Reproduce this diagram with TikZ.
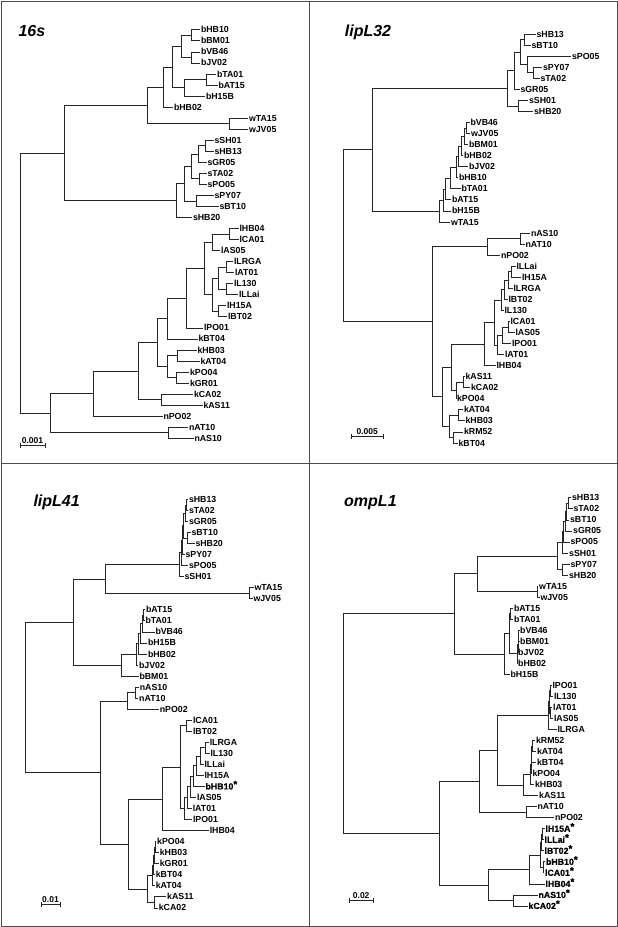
\documentclass[tikz,border=0pt]{standalone}
\usepackage{fontspec}
\setmainfont{Liberation Sans}
\newfontface\heavyfont{Liberation Sans Bold}[FakeBold=0.6]
\newcommand\lblfont{\fontsize{8.8}{8.8}\selectfont\bfseries}
\newcommand\ttlfont{\fontsize{16}{16}\selectfont\bfseries\itshape}
\newcommand\myleaf[4]{\node[leaf] (#1) at (#2,#3) {#4};}
\newcommand\mynd[3]{\coordinate (#1) at (#2,#3);}
\newcommand\mybr[3]{\draw[branch] (#1) |- (#2) (#1) |- (#3);}
\newcommand\hv[1]{{\heavyfont #1\raisebox{1.8pt}{\fontsize{10}{10}\selectfont *}}}
\newcommand\myscale[6]{% prefix, x1, x2, y, text, textx
  \coordinate (#1a) at (#2,#4); \coordinate (#1b) at (#3,#4);
  \draw[sbar] (#1a) -- (#1b);
  \draw[sbar] ([yshift=2.5pt]#1a) -- ([yshift=-2.5pt]#1a);
  \draw[sbar] ([yshift=2.5pt]#1b) -- ([yshift=-2.5pt]#1b);
  \node[sbtext] (#1t) at (#6,#4-2) {#5};}
\tikzset{
  leaf/.style={anchor=west, inner xsep=0.8pt, inner ysep=0pt, text height=6.3pt, text depth=0pt, font=\lblfont},
  branch/.style={line width=0.6pt, black!85},
  sbar/.style={line width=0.6pt, black!85},
  sbtext/.style={anchor=base, inner sep=0pt, font=\fontsize{8.5}{8.5}\selectfont\bfseries},
  ttl/.style={anchor=base west, inner sep=0pt, font=\ttlfont},
  frame/.style={line width=0.9pt, black!70}
}
\begin{document}
\begin{tikzpicture}[x=1pt,y=-1pt]
\fill[white] (0,0) rectangle (618,927);
\useasboundingbox (0,0) rectangle (618,927);
\draw[frame] (1,1) rectangle (617,926);
\draw[frame] (309,1) -- (309,926);
\draw[frame] (1,463) -- (617,463);

% ================= Panel A: 16s =================
\node[ttl] (Attl) at (18.3,36.5) {16s};
\myleaf{AbHB10}{200}{29.7}{bHB10}
\myleaf{AbBM01}{200}{40.7}{bBM01}
\myleaf{AbVB46}{200}{51.8}{bVB46}
\myleaf{AbJV02}{200}{62.8}{bJV02}
\myleaf{AbTA01}{216}{73.9}{bTA01}
\myleaf{AbAT15}{217.5}{84.9}{bAT15}
\myleaf{AbH15B}{205}{95.9}{bH15B}
\myleaf{AbHB02}{173}{107.0}{bHB02}
\myleaf{AwTA15}{248}{118.0}{wTA15}
\myleaf{AwJV05}{248}{129.1}{wJV05}
\myleaf{AsSH01}{213.5}{140.1}{sSH01}
\myleaf{AsHB13}{213.5}{151.1}{sHB13}
\myleaf{AsGR05}{206.5}{162.2}{sGR05}
\myleaf{AsTA02}{206.5}{173.2}{sTA02}
\myleaf{AsPO05}{206.5}{184.3}{sPO05}
\myleaf{AsPY07}{213.5}{195.3}{sPY07}
\myleaf{AsBT10}{218.5}{206.3}{sBT10}
\myleaf{AsHB20}{192}{217.4}{sHB20}
\myleaf{AlHB04}{238.5}{228.4}{lHB04}
\myleaf{AlCA01}{238.5}{239.5}{lCA01}
\myleaf{AlAS05}{220}{250.5}{lAS05}
\myleaf{AlLRGA}{233}{261.5}{lLRGA}
\myleaf{AlAT01}{234}{272.6}{lAT01}
\myleaf{AlL130}{233}{283.6}{lL130}
\myleaf{AlLLai}{238}{294.7}{lLLai}
\myleaf{AlH15A}{226}{305.7}{lH15A}
\myleaf{AlBT02}{227}{316.7}{lBT02}
\myleaf{AlPO01}{203}{327.8}{lPO01}
\myleaf{AkBT04}{197.5}{338.8}{kBT04}
\myleaf{AkHB03}{196.5}{349.9}{kHB03}
\myleaf{AkAT04}{199.5}{360.9}{kAT04}
\myleaf{AkPO04}{189}{371.9}{kPO04}
\myleaf{AkGR01}{189}{383.0}{kGR01}
\myleaf{AkCA02}{193}{394.0}{kCA02}
\myleaf{AkAS11}{202.5}{405.1}{kAS11}
\myleaf{AnPO02}{162.5}{416.1}{nPO02}
\myleaf{AnAT10}{188}{427.1}{nAT10}
\myleaf{AnAS10}{193.5}{438.2}{nAS10}
\mynd{Ab1}{191.7}{35.2}
\mynd{Ab2}{191.7}{57.3}
\mynd{Ab3}{181.7}{46.25}
\mynd{Ab4}{206}{79.4}
\mynd{Ab5}{184}{87.65}
\mynd{Ab6}{172.7}{66.95}
\mynd{Ab7}{163.3}{86.98}
\mynd{Aw1}{229.3}{123.55}
\mynd{Abw}{147.7}{105.27}
\mynd{AsA}{205.5}{145.6}
\mynd{AsB}{198.3}{153.9}
\mynd{AsC}{199.3}{178.75}
\mynd{AsD}{191.7}{166.3}
\mynd{AsE}{196.7}{200.8}
\mynd{AsF}{184.3}{183.55}
\mynd{AsG}{176}{200.5}
\mynd{Atop}{64.3}{152.9}
\mynd{Al1}{229.3}{233.95}
\mynd{Al2}{212.3}{242.2}
\mynd{Al3}{226.7}{267.05}
\mynd{Al4}{226.7}{289.15}
\mynd{Al5}{218.3}{278.1}
\mynd{Al6}{218.3}{311.2}
\mynd{Al7}{212.3}{294.65}
\mynd{Al8}{204.3}{268.4}
\mynd{Al9}{186.7}{298.1}
\mynd{Ak1}{167.3}{318.45}
\mynd{Ak2}{177.3}{355.4}
\mynd{Ak3}{176.7}{377.45}
\mynd{Ak4}{167.3}{366.4}
\mynd{Ak5}{157.7}{342.4}
\mynd{Ak6}{161.7}{399.55}
\mynd{Ak7}{138.3}{370.98}
\mynd{Ak8}{93.3}{393.5}
\mynd{An1}{168.3}{432.65}
\mynd{Abot}{50}{413.1}
\mynd{Aroot}{20}{283}
\mybr{Ab1}{AbHB10}{AbBM01}
\mybr{Ab2}{AbVB46}{AbJV02}
\mybr{Ab3}{Ab1}{Ab2}
\mybr{Ab4}{AbTA01}{AbAT15}
\mybr{Ab5}{Ab4}{AbH15B}
\mybr{Ab6}{Ab3}{Ab5}
\mybr{Ab7}{Ab6}{AbHB02}
\mybr{Aw1}{AwTA15}{AwJV05}
\mybr{Abw}{Ab7}{Aw1}
\mybr{AsA}{AsSH01}{AsHB13}
\mybr{AsB}{AsA}{AsGR05}
\mybr{AsC}{AsTA02}{AsPO05}
\mybr{AsD}{AsB}{AsC}
\mybr{AsE}{AsPY07}{AsBT10}
\mybr{AsF}{AsD}{AsE}
\mybr{AsG}{AsF}{AsHB20}
\mybr{Atop}{Abw}{AsG}
\mybr{Al1}{AlHB04}{AlCA01}
\mybr{Al2}{Al1}{AlAS05}
\mybr{Al3}{AlLRGA}{AlAT01}
\mybr{Al4}{AlL130}{AlLLai}
\mybr{Al5}{Al3}{Al4}
\mybr{Al6}{AlH15A}{AlBT02}
\mybr{Al7}{Al5}{Al6}
\mybr{Al8}{Al2}{Al7}
\mybr{Al9}{Al8}{AlPO01}
\mybr{Ak1}{Al9}{AkBT04}
\mybr{Ak2}{AkHB03}{AkAT04}
\mybr{Ak3}{AkPO04}{AkGR01}
\mybr{Ak4}{Ak2}{Ak3}
\mybr{Ak5}{Ak1}{Ak4}
\mybr{Ak6}{AkCA02}{AkAS11}
\mybr{Ak7}{Ak5}{Ak6}
\mybr{Ak8}{Ak7}{AnPO02}
\mybr{An1}{AnAT10}{AnAS10}
\mybr{Abot}{Ak8}{An1}
\mybr{Aroot}{Atop}{Abot}
\myscale{Asb}{20.7}{45}{445}{0.001}{32.5}

% ================= Panel B: lipL32 =================
\node[ttl] (Bttl) at (344.7,36.7) {lipL32};
\myleaf{BsHB13}{535.5}{34.0}{sHB13}
\myleaf{BsBT10}{530.5}{45.05}{sBT10}
\myleaf{BsPO05}{571}{56.1}{sPO05}
\myleaf{BsPY07}{542}{67.15}{sPY07}
\myleaf{BsTA02}{539.5}{78.2}{sTA02}
\myleaf{BsGR05}{519.5}{89.25}{sGR05}
\myleaf{BsSH01}{528}{100.3}{sSH01}
\myleaf{BsHB20}{533}{111.35}{sHB20}
\myleaf{BbVB46}{469.5}{122.4}{bVB46}
\myleaf{BwJV05}{470}{133.45}{wJV05}
\myleaf{BbBM01}{468}{144.5}{bBM01}
\myleaf{BbHB02}{463}{155.55}{bHB02}
\myleaf{BbJV02}{468}{166.6}{bJV02}
\myleaf{BbHB10}{458}{177.65}{bHB10}
\myleaf{BbTA01}{460.5}{188.7}{bTA01}
\myleaf{BbAT15}{451}{199.75}{bAT15}
\myleaf{BbH15B}{451}{210.8}{bH15B}
\myleaf{BwTA15}{450}{221.85}{wTA15}
\myleaf{BnAS10}{530}{232.9}{nAS10}
\myleaf{BnAT10}{524.5}{243.95}{nAT10}
\myleaf{BnPO02}{500}{255.0}{nPO02}
\myleaf{BlLLai}{515.5}{266.05}{lLLai}
\myleaf{BlH15A}{521}{277.1}{lH15A}
\myleaf{BlLRGA}{512.5}{288.15}{lLRGA}
\myleaf{BlBT02}{507.5}{299.2}{lBT02}
\myleaf{BlL130}{503.5}{310.25}{lL130}
\myleaf{BlCA01}{509.5}{321.3}{lCA01}
\myleaf{BlAS05}{514.5}{332.35}{lAS05}
\myleaf{BlPO01}{511}{343.4}{lPO01}
\myleaf{BlAT01}{504}{354.45}{lAT01}
\myleaf{BlHB04}{495.5}{365.5}{lHB04}
\myleaf{BkAS11}{464.5}{376.55}{kAS11}
\myleaf{BkCA02}{470}{387.6}{kCA02}
\myleaf{BkPO04}{456}{398.65}{kPO04}
\myleaf{BkAT04}{463}{409.7}{kAT04}
\myleaf{BkHB03}{464.5}{420.75}{kHB03}
\myleaf{BkRM52}{463}{431.8}{kRM52}
\myleaf{BkBT04}{457.5}{442.85}{kBT04}
\mynd{Bs1}{524.7}{39.5}
\mynd{Bs2}{533.7}{72.7}
\mynd{Bs3}{527.3}{64.4}
\mynd{Bs4}{520.3}{51.95}
\mynd{Bs5}{514}{70.6}
\mynd{Bs6}{518.7}{105.8}
\mynd{Bs7}{507.3}{88.2}
\mynd{Bb1}{466.3}{127.9}
\mynd{Bb2}{464.7}{136.2}
\mynd{Bb3}{461.3}{145.9}
\mynd{Bb4}{458}{156.25}
\mynd{Bb5}{456.3}{166.95}
\mynd{Bb6}{450.7}{177.8}
\mynd{Bb7}{445.3}{188.8}
\mynd{Bb8}{443}{199.8}
\mynd{Bb9}{439.7}{210.8}
\mynd{Btop}{372.3}{149.5}
\mynd{Bn1}{520.3}{238.4}
\mynd{Bn2}{487.3}{246.7}
\mynd{Bl1}{511}{271.6}
\mynd{Bl2}{508.3}{279.9}
\mynd{Bl3}{504.3}{289.55}
\mynd{Bl4}{501.3}{299.9}
\mynd{Bl5}{508.5}{326.8}
\mynd{Bl6}{502.5}{335.1}
\mynd{Bl7}{497}{344.8}
\mynd{Bl8}{494.3}{322.35}
\mynd{Bl9}{484.3}{343.9}
\mynd{Bk1}{463}{382.1}
\mynd{Bk2}{456}{390.4}
\mynd{Bk3}{451.7}{367.15}
\mynd{Bk4}{458.3}{415.2}
\mynd{Bk5}{453.3}{437.3}
\mynd{Bk6}{449.3}{426.3}
\mynd{Bk7}{442.7}{396.7}
\mynd{Bbot}{432.5}{321.7}
\mynd{Broot}{343}{235.6}
\mybr{Bs1}{BsHB13}{BsBT10}
\mybr{Bs2}{BsPY07}{BsTA02}
\mybr{Bs3}{BsPO05}{Bs2}
\mybr{Bs4}{Bs1}{Bs3}
\mybr{Bs5}{Bs4}{BsGR05}
\mybr{Bs6}{BsSH01}{BsHB20}
\mybr{Bs7}{Bs5}{Bs6}
\mybr{Bb1}{BbVB46}{BwJV05}
\mybr{Bb2}{Bb1}{BbBM01}
\mybr{Bb3}{Bb2}{BbHB02}
\mybr{Bb4}{Bb3}{BbJV02}
\mybr{Bb5}{Bb4}{BbHB10}
\mybr{Bb6}{Bb5}{BbTA01}
\mybr{Bb7}{Bb6}{BbAT15}
\mybr{Bb8}{Bb7}{BbH15B}
\mybr{Bb9}{Bb8}{BwTA15}
\mybr{Btop}{Bs7}{Bb9}
\mybr{Bn1}{BnAS10}{BnAT10}
\mybr{Bn2}{Bn1}{BnPO02}
\mybr{Bl1}{BlLLai}{BlH15A}
\mybr{Bl2}{Bl1}{BlLRGA}
\mybr{Bl3}{Bl2}{BlBT02}
\mybr{Bl4}{Bl3}{BlL130}
\mybr{Bl5}{BlCA01}{BlAS05}
\mybr{Bl6}{Bl5}{BlPO01}
\mybr{Bl7}{Bl6}{BlAT01}
\mybr{Bl8}{Bl4}{Bl7}
\mybr{Bl9}{Bl8}{BlHB04}
\mybr{Bk1}{BkAS11}{BkCA02}
\mybr{Bk2}{Bk1}{BkPO04}
\mybr{Bk3}{Bl9}{Bk2}
\mybr{Bk4}{BkAT04}{BkHB03}
\mybr{Bk5}{BkRM52}{BkBT04}
\mybr{Bk6}{Bk4}{Bk5}
\mybr{Bk7}{Bk3}{Bk6}
\mybr{Bbot}{Bn2}{Bk7}
\mybr{Broot}{Btop}{Bbot}
\myscale{Bsb}{351.3}{383}{436.7}{0.005}{367.2}

% ================= Panel C: lipL41 =================
\node[ttl] (Cttl) at (33.3,506.5) {lipL41};
\myleaf{CsHB13}{188}{499.3}{sHB13}
\myleaf{CsTA02}{188}{510.3}{sTA02}
\myleaf{CsGR05}{188}{521.4}{sGR05}
\myleaf{CsBT10}{190.5}{532.4}{sBT10}
\myleaf{CsHB20}{194.5}{543.5}{sHB20}
\myleaf{CsPY07}{184.5}{554.5}{sPY07}
\myleaf{CsPO05}{188}{565.5}{sPO05}
\myleaf{CsSH01}{183.5}{576.6}{sSH01}
\myleaf{CwTA15}{253.5}{587.6}{wTA15}
\myleaf{CwJV05}{252.5}{598.7}{wJV05}
\myleaf{CbAT15}{145}{609.7}{bAT15}
\myleaf{CbTA01}{144.5}{620.7}{bTA01}
\myleaf{CbVB46}{154.5}{631.8}{bVB46}
\myleaf{CbH15B}{147}{642.8}{bH15B}
\myleaf{CbHB02}{147}{653.9}{bHB02}
\myleaf{CbJV02}{138}{664.9}{bJV02}
\myleaf{CbBM01}{138.5}{675.9}{bBM01}
\myleaf{CnAS10}{138.8}{687.0}{nAS10}
\myleaf{CnAT10}{138.2}{698.0}{nAT10}
\myleaf{CnPO02}{158.8}{709.1}{nPO02}
\myleaf{ClCA01}{192}{720.1}{lCA01}
\myleaf{ClBT02}{192}{731.1}{lBT02}
\myleaf{ClLRGA}{208.8}{742.2}{lLRGA}
\myleaf{ClL130}{209.5}{753.2}{lL130}
\myleaf{ClLLai}{203.5}{764.3}{lLLai}
\myleaf{ClH15A}{203.5}{775.3}{lH15A}
\myleaf{CbHB10}{204.5}{786.3}{\hv{bHB10}}
\myleaf{ClAS05}{196}{797.4}{lAS05}
\myleaf{ClAT01}{191.8}{808.4}{lAT01}
\myleaf{ClPO01}{192}{819.5}{lPO01}
\myleaf{ClHB04}{208.8}{830.5}{lHB04}
\myleaf{CkPO04}{156.2}{841.5}{kPO04}
\myleaf{CkHB03}{158.8}{852.6}{kHB03}
\myleaf{CkGR01}{158.8}{863.6}{kGR01}
\myleaf{CkBT04}{154.8}{874.7}{kBT04}
\myleaf{CkAT04}{154.8}{885.7}{kAT04}
\myleaf{CkAS11}{166.2}{896.7}{kAS11}
\myleaf{CkCA02}{157.8}{907.8}{kCA02}
\mynd{Cs1}{186.3}{504.8}
\mynd{Cs2}{185.3}{513.1}
\mynd{Cs3}{187.7}{537.95}
\mynd{Cs4}{183.7}{525.5}
\mynd{Cs5}{182.3}{540}
\mynd{Cs6}{181}{552.75}
\mynd{Cs7}{179.3}{564.7}
\mynd{Cw1}{249.3}{593.15}
\mynd{Csw}{105.3}{578.9}
\mynd{Cb1}{143.3}{615.2}
\mynd{Cb2}{142.3}{623.5}
\mynd{Cb3}{140.3}{633.15}
\mynd{Cb4}{138.7}{643.5}
\mynd{Cb5}{136.7}{654.2}
\mynd{Cb6}{121.7}{665.05}
\mynd{Ctop}{73.3}{622}
\mynd{Cn1}{135}{692.5}
\mynd{Cn2}{127.7}{700.8}
\mynd{Cl1}{186.7}{725.6}
\mynd{Cl2}{205.7}{747.7}
\mynd{Cl3}{200.3}{756}
\mynd{Cl4}{196.7}{765.65}
\mynd{Cl5}{193.3}{775.97}
\mynd{Cl6}{190.7}{786.7}
\mynd{Cl7}{187.7}{797.55}
\mynd{Cl8}{184.3}{808.5}
\mynd{Cl9}{180.3}{767.05}
\mynd{Cl10}{162.3}{798.8}
\mynd{Ck1}{155.3}{847.05}
\mynd{Ck2}{154.3}{855.3}
\mynd{Ck3}{153.3}{865}
\mynd{Ck4}{152.3}{875.35}
\mynd{Ck5}{154.3}{902.25}
\mynd{Ck6}{147.7}{888.8}
\mynd{Clk}{128.3}{843.8}
\mynd{Cbot}{100}{772.3}
\mynd{Croot}{25}{697}
\mybr{Cs1}{CsHB13}{CsTA02}
\mybr{Cs2}{Cs1}{CsGR05}
\mybr{Cs3}{CsBT10}{CsHB20}
\mybr{Cs4}{Cs2}{Cs3}
\mybr{Cs5}{Cs4}{CsPY07}
\mybr{Cs6}{Cs5}{CsPO05}
\mybr{Cs7}{Cs6}{CsSH01}
\mybr{Cw1}{CwTA15}{CwJV05}
\mybr{Csw}{Cs7}{Cw1}
\mybr{Cb1}{CbAT15}{CbTA01}
\mybr{Cb2}{Cb1}{CbVB46}
\mybr{Cb3}{Cb2}{CbH15B}
\mybr{Cb4}{Cb3}{CbHB02}
\mybr{Cb5}{Cb4}{CbJV02}
\mybr{Cb6}{Cb5}{CbBM01}
\mybr{Ctop}{Csw}{Cb6}
\mybr{Cn1}{CnAS10}{CnAT10}
\mybr{Cn2}{Cn1}{CnPO02}
\mybr{Cl1}{ClCA01}{ClBT02}
\mybr{Cl2}{ClLRGA}{ClL130}
\mybr{Cl3}{Cl2}{ClLLai}
\mybr{Cl4}{Cl3}{ClH15A}
\mybr{Cl5}{Cl4}{CbHB10}
\mybr{Cl6}{Cl5}{ClAS05}
\mybr{Cl7}{Cl6}{ClAT01}
\mybr{Cl8}{Cl7}{ClPO01}
\mybr{Cl9}{Cl1}{Cl8}
\mybr{Cl10}{Cl9}{ClHB04}
\mybr{Ck1}{CkPO04}{CkHB03}
\mybr{Ck2}{Ck1}{CkGR01}
\mybr{Ck3}{Ck2}{CkBT04}
\mybr{Ck4}{Ck3}{CkAT04}
\mybr{Ck5}{CkAS11}{CkCA02}
\mybr{Ck6}{Ck4}{Ck5}
\mybr{Clk}{Cl10}{Ck6}
\mybr{Cbot}{Cn2}{Clk}
\mybr{Croot}{Ctop}{Cbot}
\myscale{Csb}{41.7}{60.7}{904.3}{0.01}{50.5}

% ================= Panel D: ompL1 =================
\node[ttl] (Dttl) at (344,506.5) {ompL1};
\myleaf{DsHB13}{571}{497.7}{sHB13}
\myleaf{DsTA02}{572.5}{508.7}{sTA02}
\myleaf{DsBT10}{569}{519.8}{sBT10}
\myleaf{DsGR05}{572.2}{530.8}{sGR05}
\myleaf{DsPO05}{569.5}{541.8}{sPO05}
\myleaf{DsSH01}{568.2}{552.9}{sSH01}
\myleaf{DsPY07}{569.5}{563.9}{sPY07}
\myleaf{DsHB20}{568}{574.9}{sHB20}
\myleaf{DwTA15}{538.2}{585.9}{wTA15}
\myleaf{DwJV05}{539.5}{597.0}{wJV05}
\myleaf{DbAT15}{513}{608.0}{bAT15}
\myleaf{DbTA01}{513.2}{619.0}{bTA01}
\myleaf{DbVB46}{519.2}{630.1}{bVB46}
\myleaf{DbBM01}{519.2}{641.1}{bBM01}
\myleaf{DbJV02}{517.2}{652.1}{bJV02}
\myleaf{DbHB02}{517.2}{663.2}{bHB02}
\myleaf{DbH15B}{509.5}{674.2}{bH15B}
\myleaf{DlPO01}{551.5}{685.2}{lPO01}
\myleaf{DlL130}{553}{696.2}{lL130}
\myleaf{DlAT01}{552.2}{707.3}{lAT01}
\myleaf{DlAS05}{553}{718.3}{lAS05}
\myleaf{DlLRGA}{556.5}{729.3}{lLRGA}
\myleaf{DkRM52}{535}{740.4}{kRM52}
\myleaf{DkAT04}{536}{751.4}{kAT04}
\myleaf{DkBT04}{536}{762.4}{kBT04}
\myleaf{DkPO04}{531.5}{773.5}{kPO04}
\myleaf{DkHB03}{534}{784.5}{kHB03}
\myleaf{DkAS11}{538.2}{795.5}{kAS11}
\myleaf{DnAT10}{536.5}{806.5}{nAT10}
\myleaf{DnPO02}{554}{817.6}{nPO02}
\myleaf{DlH15A}{544.5}{828.6}{\hv{lH15A}}
\myleaf{DlLLai}{543.5}{839.6}{\hv{lLLai}}
\myleaf{DlBT02}{543.5}{850.7}{\hv{lBT02}}
\myleaf{DbHB10}{545}{861.7}{\hv{bHB10}}
\myleaf{DlCA01}{544}{872.7}{\hv{lCA01}}
\myleaf{DlHB04}{544.5}{883.8}{\hv{lHB04}}
\myleaf{DnAS10}{537.5}{894.8}{\hv{nAS10}}
\myleaf{DkCA02}{527.5}{905.8}{\hv{kCA02}}
\mynd{Ds1}{568}{503.2}
\mynd{Ds2}{566.3}{511.5}
\mynd{Ds3}{565}{521.15}
\mynd{Ds4}{563.7}{531.5}
\mynd{Ds5}{562.3}{542.2}
\mynd{Ds6}{562}{569.4}
\mynd{Ds7}{557}{555.8}
\mynd{Dw1}{537}{591.45}
\mynd{Dsw}{477.3}{573.6}
\mynd{Db1}{510.7}{613.5}
\mynd{Db2}{518.7}{635.6}
\mynd{Db3}{518}{643.85}
\mynd{Db4}{517}{653.5}
\mynd{Db5}{509}{633.5}
\mynd{Db6}{504.7}{653.85}
\mynd{Dtop}{454.7}{613.7}
\mynd{Dl1}{550.5}{690.7}
\mynd{Dl2}{550}{712.8}
\mynd{Dl3}{549}{701.75}
\mynd{Dl4}{548}{715.5}
\mynd{Dk1}{532.3}{745.9}
\mynd{Dk2}{531.7}{754.15}
\mynd{Dk3}{531}{763.8}
\mynd{Dk4}{530.3}{774.15}
\mynd{Dk5}{523.7}{784.8}
\mynd{Dlk}{497}{750.15}
\mynd{Dn1}{526.3}{812.05}
\mynd{Dlkn}{479}{781.1}
\mynd{Dt1}{542.3}{834.1}
\mynd{Dt2}{541}{842.4}
\mynd{Dt3}{543}{867.2}
\mynd{Dt4}{540}{854.8}
\mynd{Dt5}{529.3}{869.3}
\mynd{Dt6}{513.5}{900.3}
\mynd{Dt7}{488.3}{884.8}
\mynd{Dbot}{439.7}{832.95}
\mynd{Droot}{343}{723.3}
\mybr{Ds1}{DsHB13}{DsTA02}
\mybr{Ds2}{Ds1}{DsBT10}
\mybr{Ds3}{Ds2}{DsGR05}
\mybr{Ds4}{Ds3}{DsPO05}
\mybr{Ds5}{Ds4}{DsSH01}
\mybr{Ds6}{DsPY07}{DsHB20}
\mybr{Ds7}{Ds5}{Ds6}
\mybr{Dw1}{DwTA15}{DwJV05}
\mybr{Dsw}{Ds7}{Dw1}
\mybr{Db1}{DbAT15}{DbTA01}
\mybr{Db2}{DbVB46}{DbBM01}
\mybr{Db3}{Db2}{DbJV02}
\mybr{Db4}{Db3}{DbHB02}
\mybr{Db5}{Db1}{Db4}
\mybr{Db6}{Db5}{DbH15B}
\mybr{Dtop}{Dsw}{Db6}
\mybr{Dl1}{DlPO01}{DlL130}
\mybr{Dl2}{DlAT01}{DlAS05}
\mybr{Dl3}{Dl1}{Dl2}
\mybr{Dl4}{Dl3}{DlLRGA}
\mybr{Dk1}{DkRM52}{DkAT04}
\mybr{Dk2}{Dk1}{DkBT04}
\mybr{Dk3}{Dk2}{DkPO04}
\mybr{Dk4}{Dk3}{DkHB03}
\mybr{Dk5}{Dk4}{DkAS11}
\mybr{Dlk}{Dl4}{Dk5}
\mybr{Dn1}{DnAT10}{DnPO02}
\mybr{Dlkn}{Dlk}{Dn1}
\mybr{Dt1}{DlH15A}{DlLLai}
\mybr{Dt2}{Dt1}{DlBT02}
\mybr{Dt3}{DbHB10}{DlCA01}
\mybr{Dt4}{Dt2}{Dt3}
\mybr{Dt5}{Dt4}{DlHB04}
\mybr{Dt6}{DnAS10}{DkCA02}
\mybr{Dt7}{Dt5}{Dt6}
\mybr{Dbot}{Dlkn}{Dt7}
\mybr{Droot}{Dtop}{Dbot}
\myscale{Dsb}{349.7}{373.7}{900}{0.02}{361.2}
\end{tikzpicture}
\end{document}
